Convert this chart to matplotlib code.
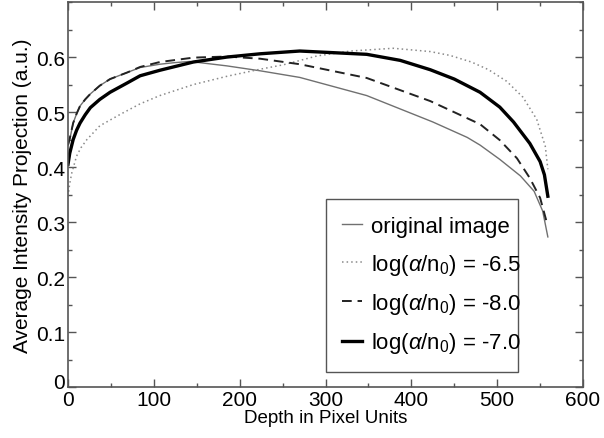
import numpy as np
import matplotlib
matplotlib.use("Agg")
import matplotlib.pyplot as plt
import matplotlib.transforms as mtransforms
from matplotlib.ticker import MultipleLocator

plt.rcParams['font.family'] = ['Liberation Sans', 'DejaVu Sans']
plt.rcParams['mathtext.fontset'] = 'custom'
plt.rcParams['mathtext.rm'] = 'Liberation Sans'
plt.rcParams['mathtext.it'] = 'Liberation Sans:italic'

# values
depth_orig = [0, 2, 6, 10, 14, 20, 26, 37, 49, 69, 84, 107, 125, 142, 185, 224, 270, 348, 425, 465, 480, 503, 527, 543, 553, 559]
orig = [0.44, 0.45, 0.48, 0.497, 0.511, 0.523, 0.533, 0.548, 0.56, 0.572, 0.581, 0.587, 0.590, 0.592, 0.584, 0.575, 0.563, 0.530, 0.482, 0.454, 0.440, 0.414, 0.384, 0.356, 0.320, 0.273]

depth_65 = [0, 2, 4.5, 10, 15, 22, 37, 61, 84, 107, 146, 185, 224, 251, 290, 329, 379, 422, 445, 470, 490, 511, 530, 546, 556, 559]
val_65 = [0.347, 0.37, 0.39, 0.42, 0.435, 0.45, 0.475, 0.496, 0.515, 0.53, 0.55, 0.565, 0.578, 0.586, 0.602, 0.611, 0.616, 0.610, 0.603, 0.591, 0.577, 0.556, 0.527, 0.487, 0.438, 0.396]

depth_80 = [0, 2, 6, 10, 14, 20, 26, 37, 49, 69, 84, 107, 146, 185, 224, 270, 348, 422, 480, 503, 523, 538, 550, 558]
val_80 = [0.44, 0.452, 0.48, 0.497, 0.511, 0.523, 0.533, 0.548, 0.56, 0.572, 0.582, 0.591, 0.599, 0.601, 0.597, 0.587, 0.562, 0.52, 0.478, 0.449, 0.416, 0.38, 0.344, 0.298]

depth_70 = [0, 2, 6, 10, 14, 20, 26, 37, 49, 69, 84, 107, 146, 185, 224, 270, 348, 387, 422, 450, 480, 503, 519, 538, 550, 555, 559]
val_70 = [0.405, 0.425, 0.45, 0.467, 0.48, 0.495, 0.508, 0.523, 0.536, 0.553, 0.566, 0.576, 0.591, 0.600, 0.606, 0.611, 0.605, 0.594, 0.577, 0.560, 0.536, 0.509, 0.482, 0.443, 0.410, 0.386, 0.347]

yticks = [0, 0.1, 0.2, 0.3, 0.4, 0.5, 0.6]
ylabels = ['0', '0.1', '0.2', '0.3', '0.4', '0.5', '0.6']
xticks = [0, 100, 200, 300, 400, 500, 600]

fig = plt.figure(figsize=(6.04, 4.39), dpi=100)
ax = fig.add_axes([0.1126, 0.116, 0.8527, 0.877])

ax.plot(depth_orig, orig, color='#707070', lw=1.0, label='original image')
ax.plot(depth_65, val_65, color='#8a8a8a', lw=1.1, ls=(0, (1, 2)), label=r'log($\alpha$/n$_0$) = -6.5')
ax.plot(depth_80, val_80, color='#222222', lw=1.4, ls=(0, (5, 3)), label=r'log($\alpha$/n$_0$) = -8.0')
ax.plot(depth_70, val_70, color='black', lw=2.4, label=r'log($\alpha$/n$_0$) = -7.0')

ax.set_xlim(0, 600)
ax.set_ylim(0, 0.7)
ax.set_xticks(xticks)
ax.set_yticks(yticks)
ax.set_yticklabels(ylabels)
ax.xaxis.set_minor_locator(MultipleLocator(50))
ax.yaxis.set_minor_locator(MultipleLocator(0.05))
ax.tick_params(which='both', direction='in', top=True, right=True, labelsize=15, color='#555555', pad=2)
ax.tick_params(which='major', length=6, width=1)
ax.tick_params(which='minor', length=3, width=1)
for s in ax.spines.values():
    s.set_color('#555555')
    s.set_linewidth(1.2)

# y "0" sits a little higher than the x "0" in the original
lab0 = ax.get_yticklabels()[0]
lab0.set_transform(lab0.get_transform() + mtransforms.ScaledTranslation(0, 5 / 72, fig.dpi_scale_trans))

ax.set_xlabel('Depth in Pixel Units', fontsize=13.5, labelpad=0)
ax.set_ylabel('Average Intensity Projection (a.u.)', fontsize=15, labelpad=3)

leg = ax.legend(loc='lower left', bbox_to_anchor=(0.50, 0.039, 0.374, 0.449), mode='expand',
                fontsize=16, handlelength=0.9, handletextpad=0.4, labelspacing=0.65,
                fancybox=False, framealpha=1, borderaxespad=0, borderpad=0.75)
leg.get_frame().set_edgecolor('#555555')
leg.get_frame().set_linewidth(1.0)

fig.savefig('out.png', dpi=100)
